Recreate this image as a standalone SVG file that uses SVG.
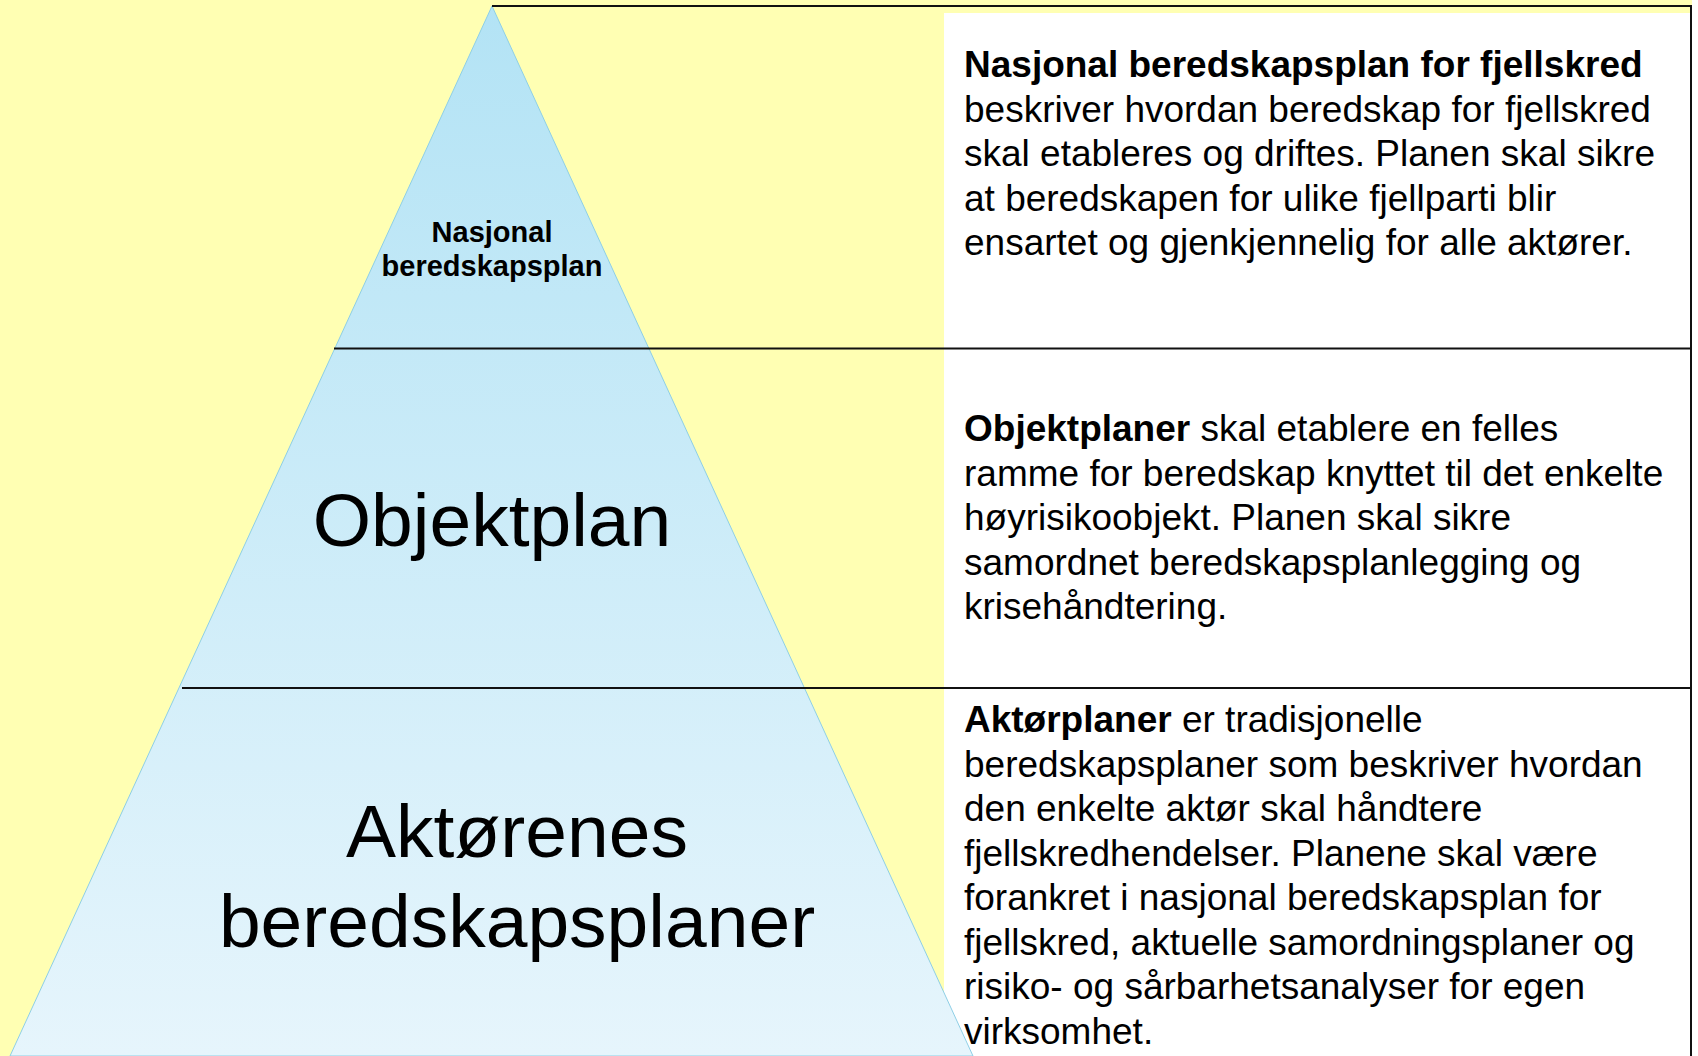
<svg xmlns="http://www.w3.org/2000/svg" width="1698" height="1056" viewBox="0 0 1698 1056">
<defs>
<linearGradient id="tri" x1="0" y1="0" x2="0" y2="1">
<stop offset="0" stop-color="#b3e3f5"/>
<stop offset="1" stop-color="#e6f5fc"/>
</linearGradient>
<style>
.t{font-family:"Liberation Sans",Arial,sans-serif;fill:#000}
.d{font-size:37px}
.b{font-weight:bold}
.big{font-size:75px;text-anchor:middle}
.ln{stroke:#111;stroke-width:2;fill:none}
</style>
</defs>
<rect x="0" y="0" width="1698" height="1056" fill="#ffffff"/>
<rect x="0" y="0" width="1692" height="1056" fill="#ffffb3"/>
<rect x="944" y="13" width="747" height="1043" fill="#ffffff"/>
<g id="pyramid">
<polygon points="492,6 10,1056 973,1056" fill="url(#tri)" stroke="#8ecfe6" stroke-width="1"/>
</g>
<g id="connectors">
<line class="ln" x1="492" y1="6" x2="1692" y2="6"/>
<line class="ln" x1="1691" y1="6" x2="1691" y2="1056"/>
<line class="ln" x1="334" y1="348.5" x2="1691" y2="348.5"/>
<line class="ln" x1="182" y1="688" x2="1691" y2="688"/>
</g>
<g id="level1">
<text class="t b" x="492" y="242" font-size="29" text-anchor="middle">Nasjonal</text>
<text class="t b" x="492" y="276" font-size="29" text-anchor="middle">beredskapsplan</text>
</g>
<g id="level2">
<text class="t big" x="492" y="546">Objektplan</text>
</g>
<g id="level3">
<text class="t big" x="517" y="857">Aktørenes</text>
<text class="t big" x="517" y="947">beredskapsplaner</text>
</g>
<g id="desc1">
<text class="t d b" x="964" y="77">Nasjonal beredskapsplan for fjellskred</text>
<text class="t d" x="964" y="121.5">beskriver hvordan beredskap for fjellskred</text>
<text class="t d" x="964" y="166">skal etableres og driftes. Planen skal sikre</text>
<text class="t d" x="964" y="210.5">at beredskapen for ulike fjellparti blir</text>
<text class="t d" x="964" y="255">ensartet og gjenkjennelig for alle aktører.</text>
</g>
<g id="desc2">
<text class="t d" x="964" y="441"><tspan class="b">Objektplaner</tspan> skal etablere en felles</text>
<text class="t d" x="964" y="485.5">ramme for beredskap knyttet til det enkelte</text>
<text class="t d" x="964" y="530">høyrisikoobjekt. Planen skal sikre</text>
<text class="t d" x="964" y="574.5">samordnet beredskapsplanlegging og</text>
<text class="t d" x="964" y="619">krisehåndtering.</text>
</g>
<g id="desc3">
<text class="t d" x="964" y="732"><tspan class="b">Aktørplaner</tspan> er tradisjonelle</text>
<text class="t d" x="964" y="776.5">beredskapsplaner som beskriver hvordan</text>
<text class="t d" x="964" y="821">den enkelte aktør skal håndtere</text>
<text class="t d" x="964" y="865.5">fjellskredhendelser. Planene skal være</text>
<text class="t d" x="964" y="910">forankret i nasjonal beredskapsplan for</text>
<text class="t d" x="964" y="954.5">fjellskred, aktuelle samordningsplaner og</text>
<text class="t d" x="964" y="999">risiko- og sårbarhetsanalyser for egen</text>
<text class="t d" x="964" y="1043.5">virksomhet.</text>
</g>
</svg>
